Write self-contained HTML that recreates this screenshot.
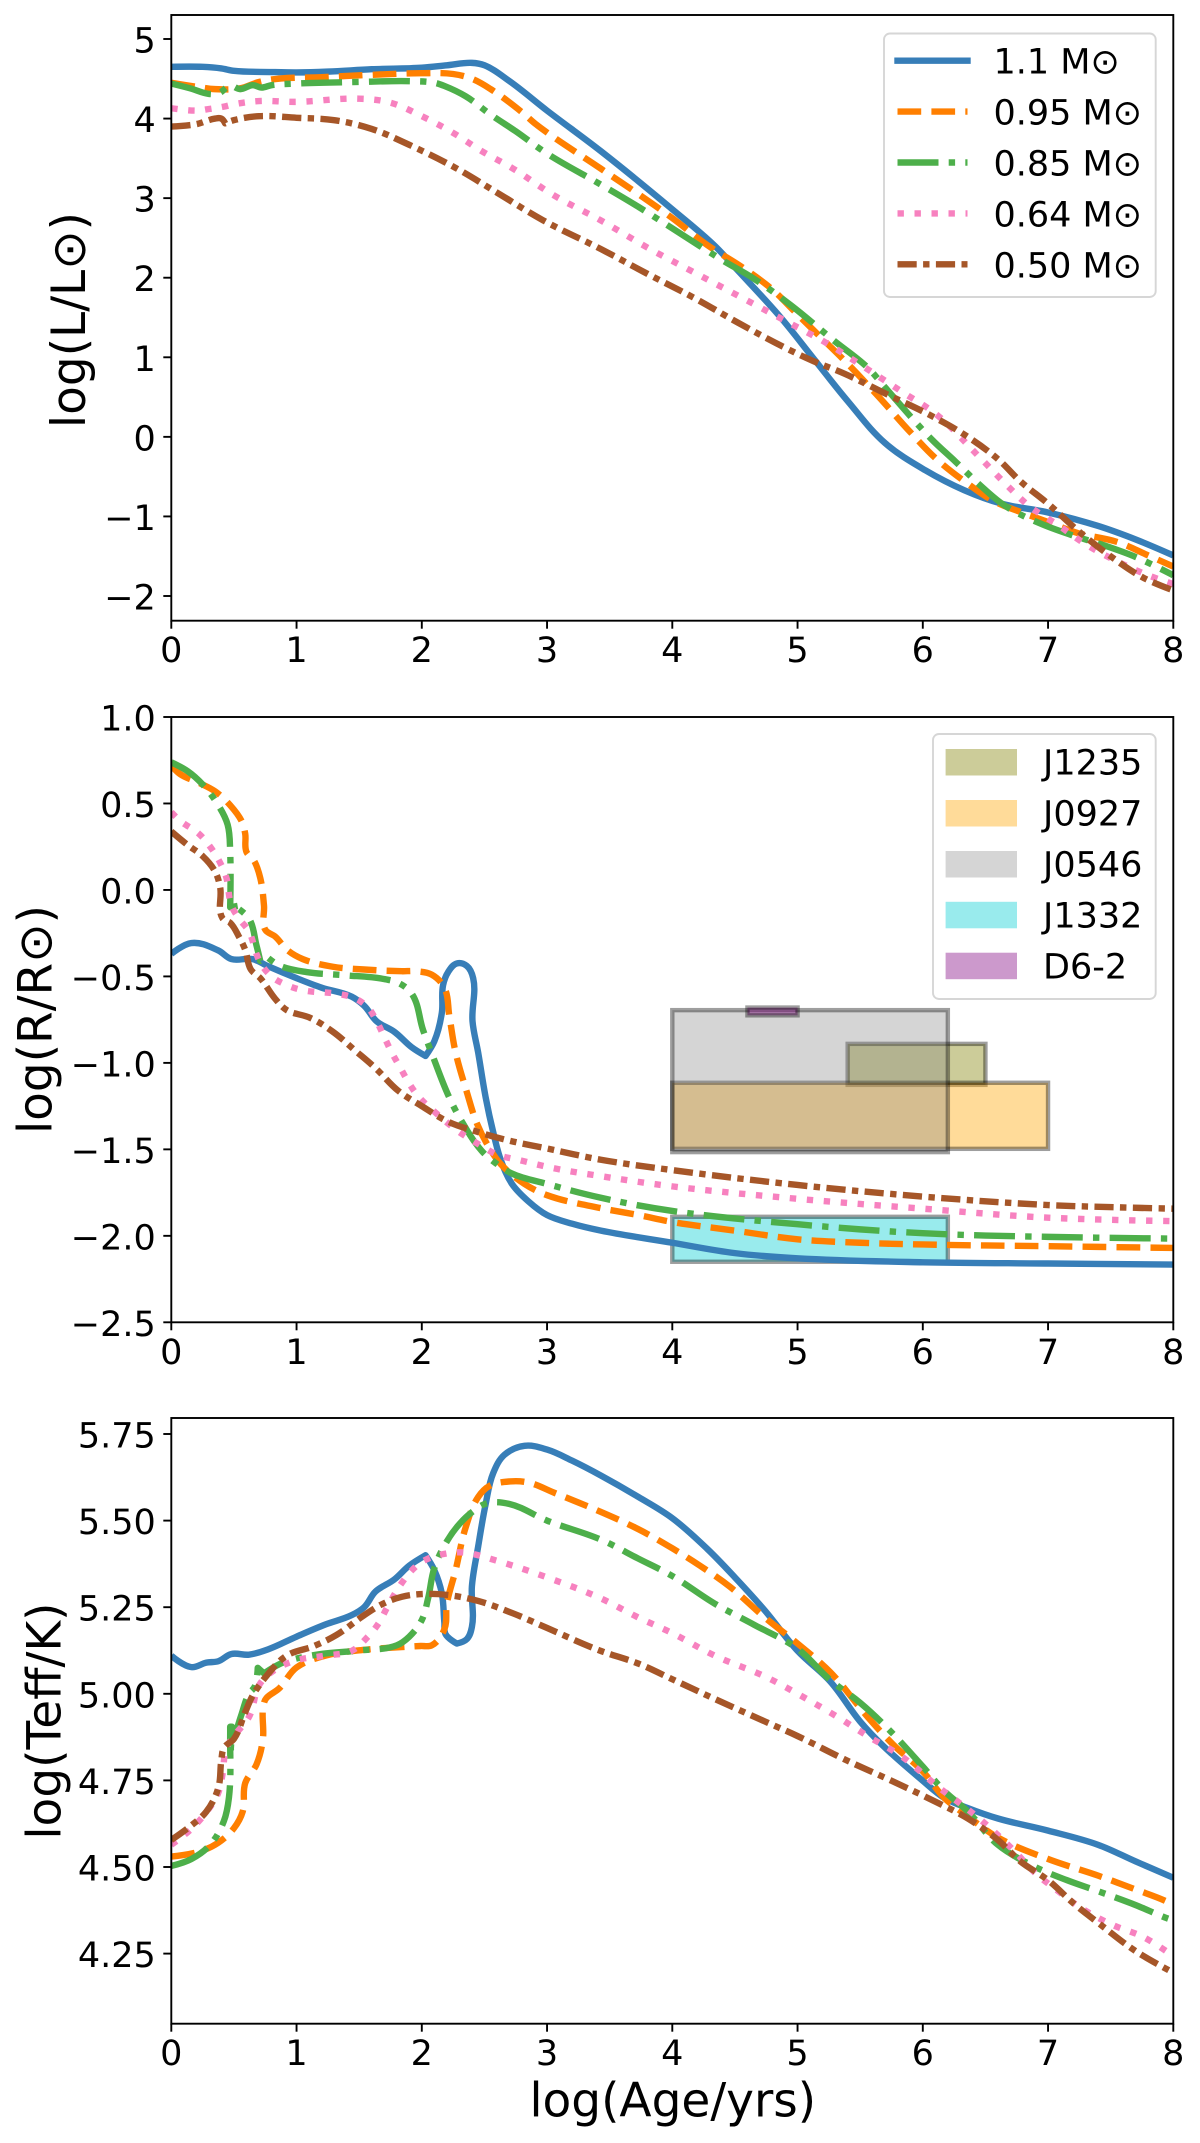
<!DOCTYPE html>
<html lang="en">
<head>
<meta charset="utf-8">
<title>Stellar evolution tracks</title>
<style>
html,body{margin:0;padding:0;background:#fff;}
svg{display:block;}
text{font-family:"DejaVu Sans","Liberation Sans","Noto Sans CJK SC",sans-serif;fill:#000;}
.tick{font-size:35px;}
.axis-title{font-size:47px;}
.leg{font-size:35px;}
</style>
</head>
<body>
<svg xmlns="http://www.w3.org/2000/svg" width="1200" height="2143" viewBox="0 0 1200 2143">
  <defs>
    <clipPath id="clip-1"><rect x="171.3" y="15" width="1002" height="605.7"/></clipPath>
    <clipPath id="clip-2"><rect x="171.3" y="717" width="1002" height="605.3"/></clipPath>
    <clipPath id="clip-3"><rect x="171.3" y="1418" width="1002" height="605.7"/></clipPath>
  </defs>
  <g id="panel-1"></g>
  <g id="panel-2"></g>
  <g id="panel-3"></g>

  <text class="axis-title" transform="translate(85,320) rotate(-90)" text-anchor="middle">log(L/L⊙)</text>
  <text class="axis-title" transform="translate(51.5,1019.5) rotate(-90)" text-anchor="middle">log(R/R⊙)</text>
  <text class="axis-title" transform="translate(60.5,1721) rotate(-90)" text-anchor="middle">log(Teff/K)</text>
  <text class="axis-title" x="672.8" y="2116.5" text-anchor="middle">log(Age/yrs)</text>

  <g>
    <rect x="884" y="33.5" width="271.7" height="263.5" rx="6" fill="#fff" fill-opacity="0.8" stroke="#d6d6d6" stroke-width="1.9"/>
    <g>
      <line x1="897.5" x2="967.5" y1="60.7" y2="60.7" stroke="#377eb8" stroke-width="6.4" stroke-linecap="square"/>
      <text class="leg" x="993.5" y="73.7">1.1 M⊙</text>
    </g>
    <g>
      <line x1="897.5" x2="967.5" y1="111.6" y2="111.6" stroke="#ff7f00" stroke-width="6.4" stroke-dasharray="23.7 10.2"/>
      <text class="leg" x="993.5" y="124.6">0.95 M⊙</text>
    </g>
    <g>
      <line x1="897.5" x2="967.5" y1="162.5" y2="162.5" stroke="#4daf4a" stroke-width="6.4" stroke-dasharray="41 10.2 6.4 10.2"/>
      <text class="leg" x="993.5" y="175.5">0.85 M⊙</text>
    </g>
    <g>
      <line x1="897.5" x2="967.5" y1="213.4" y2="213.4" stroke="#f781bf" stroke-width="6.4" stroke-dasharray="6.4 10.6"/>
      <text class="leg" x="993.5" y="226.4">0.64 M⊙</text>
    </g>
    <g>
      <line x1="897.5" x2="967.5" y1="264.3" y2="264.3" stroke="#a65628" stroke-width="6.4" stroke-dasharray="19.2 6.4 6.4 6.4"/>
      <text class="leg" x="993.5" y="277.3">0.50 M⊙</text>
    </g>
  </g>

  <g>
    <rect x="933" y="734" width="222.7" height="265" rx="6" fill="#fff" fill-opacity="0.8" stroke="#d6d6d6" stroke-width="1.9"/>
    <g>
      <rect x="945.6" y="749" width="71.4" height="26.5" fill="#808000" fill-opacity="0.4"/>
      <text class="leg" x="1043" y="774.7">J1235</text>
    </g>
    <g>
      <rect x="945.6" y="800" width="71.4" height="26.5" fill="#ffa500" fill-opacity="0.4"/>
      <text class="leg" x="1043" y="825.6">J0927</text>
    </g>
    <g>
      <rect x="945.6" y="851" width="71.4" height="26.5" fill="#808080" fill-opacity="0.33"/>
      <text class="leg" x="1043" y="876.5">J0546</text>
    </g>
    <g>
      <rect x="945.6" y="901.8" width="71.4" height="26.5" fill="#00ced1" fill-opacity="0.4"/>
      <text class="leg" x="1043" y="927.4">J1332</text>
    </g>
    <g>
      <rect x="945.6" y="952.7" width="71.4" height="26.5" fill="#800080" fill-opacity="0.4"/>
      <text class="leg" x="1043" y="978.3">D6-2</text>
    </g>
  </g>
</svg>

<script>
// ---------- tick labels ----------
const xTickValues = [0, 1, 2, 3, 4, 5, 6, 7, 8];
const lumTickValues = [5, 4, 3, 2, 1, 0, -1, -2];
const lumTickLabels = ['5', '4', '3', '2', '1', '0', '−1', '−2'];
const radTickValues = [1, 0.5, 0, -0.5, -1, -1.5, -2, -2.5];
const radTickLabels = ['1.0', '0.5', '0.0', '−0.5', '−1.0', '−1.5', '−2.0', '−2.5'];
const teffTickValues = [5.75, 5.5, 5.25, 5, 4.75, 4.5, 4.25];
const teffTickLabels = ['5.75', '5.50', '5.25', '5.00', '4.75', '4.50', '4.25'];

// ---------- observed object boxes (age range, log R range) ----------
const boxNames = ['j1235', 'j0927', 'j0546', 'j1332', 'd6-2'];
const boxAgeMin = [5.4, 4, 4, 4, 4.6];
const boxAgeMax = [6.5, 7, 6.2, 6.2, 5];
const boxRadMin = [-1.127, -1.497, -1.516, -2.15, -0.725];
const boxRadMax = [-0.89, -1.115, -0.695, -1.89, -0.68];

// ---------- log L vs log age ----------
const lumAge110 = [0,0.25,0.4,0.5,0.8,1,1.25,1.6,2,2.2,2.4,2.5,2.7,3,3.43,4,4.34,4.5,4.86,5.13,5.4,5.7,6.02,6.33,6.63,7,7.4,7.7,8];
const lumVal110 = [4.65,4.65,4.63,4.6,4.585,4.58,4.59,4.62,4.64,4.67,4.7,4.67,4.47,4.1,3.59,2.86,2.4,2.13,1.51,0.98,0.45,-0.08,-0.42,-0.67,-0.84,-0.95,-1.12,-1.29,-1.49];
const lumAge095 = [0,0.2,0.35,0.55,0.7,0.85,1.2,1.6,2,2.25,2.4,2.55,2.8,2.91,3.43,3.73,4,4.28,4.56,4.8,4.98,5.16,5.38,5.65,5.9,6.11,6.36,6.57,6.79,7,7.24,7.55,7.8,8];
const lumVal095 = [4.45,4.4,4.37,4.38,4.46,4.5,4.52,4.55,4.57,4.56,4.5,4.37,4.08,3.93,3.37,3.05,2.75,2.41,2.13,1.85,1.57,1.29,0.95,0.5,0.06,-0.28,-0.59,-0.81,-0.95,-1.07,-1.21,-1.32,-1.49,-1.63];
const lumAge085 = [0,0.15,0.3,0.38,0.47,0.55,0.65,0.72,0.8,1,1.5,1.9,2.1,2.18,2.35,2.55,2.75,3,3.43,3.73,4.04,4.4,4.65,4.95,5.29,5.56,5.7,6.07,6.26,6.48,6.66,6.94,7.18,7.46,7.7,8];
const lumVal085 = [4.44,4.38,4.31,4.32,4.41,4.37,4.42,4.39,4.42,4.44,4.46,4.47,4.45,4.41,4.28,4.05,3.84,3.56,3.17,2.89,2.58,2.22,1.99,1.65,1.21,0.87,0.62,-0.03,-0.31,-0.64,-0.87,-1.09,-1.23,-1.37,-1.51,-1.74];
const lumAge064 = [0,0.2,0.3,0.42,0.5,0.7,1,1.5,1.75,2,2.25,2.48,2.73,3.06,3.43,3.8,4.17,4.53,4.9,5.23,5.48,5.84,6.11,6.45,6.66,6.85,7.09,7.3,7.52,7.8,8];
const lumVal064 = [4.13,4.1,4.12,4.15,4.18,4.22,4.21,4.25,4.2,4.03,3.82,3.59,3.37,3.03,2.72,2.38,2.07,1.77,1.46,1.18,0.93,0.56,0.28,-0.25,-0.59,-0.87,-1.12,-1.35,-1.54,-1.74,-1.85];
const lumAge050 = [0,0.2,0.35,0.4,0.43,0.5,0.7,1,1.3,1.6,1.9,2.27,2.6,2.97,3.43,3.8,4.17,4.53,4.9,5.13,5.38,5.72,6.05,6.33,6.6,6.78,7,7.24,7.49,7.76,8];
const lumVal050 = [3.9,3.93,4,4,3.94,3.98,4.03,4.01,3.98,3.87,3.67,3.38,3.07,2.72,2.36,2.05,1.75,1.43,1.12,0.95,0.79,0.53,0.28,0.03,-0.28,-0.56,-0.84,-1.18,-1.49,-1.77,-1.93];

// ---------- log R vs log age ----------
const radAge110 = [0,0.16,0.375,0.48,0.65,0.77,1,1.2,1.44,1.54,1.64,1.78,1.92,2.03,2.1,2.16,2.17,2.21,2.28,2.36,2.41,2.405,2.45,2.51,2.57,2.63,2.72,2.85,3,3.2,3.43,4,4.5,5,6,7,8];
const radVal110 = [-0.37,-0.307,-0.35,-0.4,-0.4,-0.44,-0.51,-0.565,-0.617,-0.67,-0.76,-0.82,-0.91,-0.96,-0.875,-0.71,-0.55,-0.475,-0.425,-0.44,-0.51,-0.76,-0.94,-1.2,-1.4,-1.56,-1.7,-1.8,-1.88,-1.93,-1.97,-2.04,-2.1,-2.13,-2.153,-2.16,-2.166];
const radAge095 = [0,0.07,0.22,0.35,0.47,0.56,0.59,0.6,0.66,0.71,0.74,0.75,0.83,0.93,1.05,1.29,1.54,1.84,1.96,2.08,2.18,2.22,2.27,2.36,2.44,2.53,2.63,2.82,3,3.43,3.73,4,4.5,5,5.5,6,7,8];
const radVal095 = [0.72,0.67,0.62,0.57,0.49,0.4,0.325,0.22,0.17,0.07,-0.09,-0.23,-0.27,-0.35,-0.4,-0.444,-0.46,-0.47,-0.47,-0.49,-0.565,-0.73,-0.94,-1.17,-1.35,-1.48,-1.585,-1.7,-1.765,-1.84,-1.88,-1.92,-1.97,-2.02,-2.04,-2.05,-2.06,-2.07];
const radAge085 = [0,0.13,0.25,0.375,0.45,0.47,0.47,0.55,0.52,0.62,0.68,0.71,0.76,0.86,1.08,1.38,1.69,1.82,1.92,2.01,2.09,2.21,2.31,2.48,2.6,2.72,3,3.43,4,5,6,7,8];
const radVal085 = [0.738,0.687,0.61,0.49,0.377,0.22,-0.1,-0.09,-0.1,-0.165,-0.32,-0.41,-0.385,-0.436,-0.475,-0.493,-0.514,-0.54,-0.6,-0.81,-0.965,-1.185,-1.327,-1.51,-1.585,-1.64,-1.7,-1.78,-1.856,-1.933,-1.985,-2.006,-2.016];
const radAge064 = [0,0.07,0.22,0.31,0.39,0.44,0.48,0.54,0.62,0.68,0.71,0.8,0.92,1.05,1.32,1.46,1.57,1.64,1.7,1.76,1.83,1.9,1.98,2.09,2.28,2.42,2.51,2.6,2.79,3.06,3.43,4,5,6,7,8];
const radVal064 = [0.45,0.4,0.325,0.25,0.157,0.07,-0.09,-0.165,-0.24,-0.37,-0.42,-0.5,-0.55,-0.58,-0.6,-0.625,-0.68,-0.76,-0.85,-0.94,-1.03,-1.12,-1.2,-1.275,-1.39,-1.456,-1.495,-1.53,-1.564,-1.61,-1.655,-1.714,-1.786,-1.843,-1.895,-1.915];
const radAge050 = [0,0.13,0.25,0.35,0.39,0.41,0.47,0.54,0.59,0.635,0.71,0.83,0.92,1.11,1.29,1.47,1.63,1.81,2,2.21,2.45,2.7,3,3.43,4,5,6,7,7.55,8];
const radVal050 = [0.338,0.26,0.196,0.106,0.015,-0.165,-0.19,-0.27,-0.346,-0.46,-0.51,-0.63,-0.694,-0.74,-0.82,-0.93,-1.03,-1.16,-1.25,-1.34,-1.4,-1.45,-1.495,-1.56,-1.62,-1.706,-1.773,-1.822,-1.835,-1.843];

// ---------- log Teff vs log age ----------
const teffAge110 = [0,0.16,0.28,0.375,0.48,0.62,0.77,1,1.23,1.44,1.54,1.63,1.78,1.9,2.03,2.1,2.16,2.18,2.19,2.28,2.36,2.4,2.4,2.45,2.51,2.57,2.66,2.82,3,3.2,3.43,3.73,4,4.28,4.5,4.74,5,5.26,5.5,5.68,6,6.17,6.36,6.6,7,7.4,7.7,8];
const teffVal110 = [5.11,5.077,5.09,5.094,5.115,5.113,5.128,5.165,5.2,5.227,5.25,5.295,5.33,5.37,5.4,5.357,5.29,5.206,5.172,5.145,5.158,5.193,5.31,5.425,5.548,5.637,5.69,5.716,5.705,5.673,5.63,5.568,5.507,5.418,5.336,5.24,5.124,5.036,4.92,4.851,4.749,4.7,4.67,4.64,4.605,4.564,4.516,4.469];
const teffAge095 = [0,0.22,0.375,0.5,0.57,0.59,0.68,0.73,0.74,0.76,0.86,1,1.23,1.54,1.84,1.99,2.08,2.18,2.2,2.27,2.35,2.45,2.54,2.7,2.85,3.06,3.43,3.73,4,4.22,4.46,4.74,5,5.26,5.56,5.77,6,6.17,6.36,6.6,7,7.4,7.7,7.95,8];
const teffVal095 = [4.53,4.544,4.57,4.612,4.66,4.742,4.796,4.865,4.974,4.988,5.015,5.076,5.11,5.127,5.135,5.138,5.14,5.186,5.26,5.357,5.48,5.568,5.6,5.613,5.61,5.58,5.525,5.475,5.42,5.37,5.309,5.22,5.145,5.063,4.933,4.851,4.776,4.7,4.646,4.585,4.523,4.475,4.435,4.4,4.39];
const teffAge085 = [0,0.16,0.31,0.42,0.46,0.47,0.47,0.485,0.475,0.56,0.62,0.665,0.69,0.74,0.86,0.95,1.2,1.5,1.8,1.9,2,2.05,2.1,2.2,2.3,2.41,2.52,2.7,3,3.43,3.73,4,4.34,4.65,5,5.26,5.5,5.72,6,6.17,6.36,6.6,6.88,7.15,7.4,7.7,7.95,8];
const teffVal085 = [4.503,4.523,4.564,4.633,4.7,4.88,4.905,4.905,4.84,4.94,5,5.02,5.075,5.059,5.085,5.097,5.115,5.125,5.14,5.165,5.213,5.275,5.363,5.44,5.49,5.527,5.55,5.548,5.5,5.445,5.39,5.34,5.26,5.2,5.13,5.04,4.974,4.9,4.79,4.72,4.66,4.564,4.503,4.462,4.43,4.39,4.352,4.346];
const teffAge064 = [0,0.16,0.31,0.375,0.41,0.44,0.5,0.62,0.71,0.83,1,1.23,1.44,1.57,1.66,1.72,1.84,1.96,2.05,2.18,2.33,2.6,3,3.42,3.73,4,4.34,4.74,5,5.32,5.56,5.84,6.11,6.45,6.72,6.9,7.09,7.27,7.52,7.76,8];
const teffVal064 = [4.564,4.61,4.673,4.714,4.77,4.844,4.878,4.933,5.03,5.07,5.097,5.11,5.124,5.165,5.206,5.247,5.32,5.37,5.39,5.404,5.408,5.384,5.336,5.277,5.22,5.175,5.11,5.05,5,4.933,4.878,4.817,4.735,4.64,4.55,4.482,4.428,4.38,4.332,4.298,4.243];
const teffAge050 = [0,0.16,0.28,0.375,0.4,0.42,0.5,0.59,0.65,0.77,0.92,1.14,1.32,1.54,1.69,1.84,2,2.21,2.45,2.73,3,3.42,3.73,4,4.34,4.74,5,5.38,5.75,6.11,6.36,6.6,6.78,7,7.21,7.4,7.7,8];
const teffVal050 = [4.578,4.62,4.66,4.728,4.81,4.844,4.87,4.947,4.995,5.056,5.11,5.138,5.17,5.227,5.26,5.28,5.288,5.285,5.268,5.232,5.19,5.125,5.087,5.042,4.985,4.92,4.878,4.81,4.749,4.687,4.64,4.578,4.516,4.462,4.393,4.339,4.257,4.195];

// ---------- series lists ----------
const massNames = ['1-1', '0-95', '0-85', '0-64', '0-50'];
const lumAges = [lumAge110, lumAge095, lumAge085, lumAge064, lumAge050];
const lumVals = [lumVal110, lumVal095, lumVal085, lumVal064, lumVal050];
const radAges = [radAge110, radAge095, radAge085, radAge064, radAge050];
const radVals = [radVal110, radVal095, radVal085, radVal064, radVal050];
const teffAges = [teffAge110, teffAge095, teffAge085, teffAge064, teffAge050];
const teffVals = [teffVal110, teffVal095, teffVal085, teffVal064, teffVal050];

// ---------- drawing ----------
const SVG_NS = 'http://www.w3.org/2000/svg';
const seriesColors = ['#377eb8', '#ff7f00', '#4daf4a', '#f781bf', '#a65628'];
const seriesDashes = ['none', '23.7 10.2', '41 10.2 6.4 10.2', '6.4 10.6', '19.2 6.4 6.4 6.4'];
const boxFills = ['rgba(128,128,0,0.4)', 'rgba(255,165,0,0.4)', 'rgba(128,128,128,0.33)', 'rgba(0,206,209,0.4)', 'rgba(128,0,128,0.4)'];
const LEFT = 171.3, RIGHT = 1173.3;

function xScale(v) { return LEFT + (v / 8) * (RIGHT - LEFT); }
function linearScale(d0, d1, p0, p1) { return function (v) { return p0 + (v - d0) / (d1 - d0) * (p1 - p0); }; }
function make(tag) { return document.createElementNS(SVG_NS, tag); }

// Smooth path through the points; sharp turns stay as corners.
function smoothPath(pts) {
  const tangents = pts.map(function (p, i) {
    if (i === 0 || i === pts.length - 1) { return [0, 0]; }
    const a = pts[i - 1], b = pts[i + 1];
    const ux = p[0] - a[0], uy = p[1] - a[1], vx = b[0] - p[0], vy = b[1] - p[1];
    const lu = Math.hypot(ux, uy) || 1, lv = Math.hypot(vx, vy) || 1;
    if ((ux * vx + uy * vy) / (lu * lv) < 0.5) { return [0, 0]; }
    const tx = ux / lu + vx / lv, ty = uy / lu + vy / lv;
    const lt = Math.hypot(tx, ty) || 1;
    return [tx / lt, ty / lt];
  });
  let d = 'M' + pts[0][0].toFixed(2) + ' ' + pts[0][1].toFixed(2);
  for (let i = 1; i < pts.length; i++) {
    const a = pts[i - 1], b = pts[i];
    const h = Math.hypot(b[0] - a[0], b[1] - a[1]) * 0.35;
    d += 'C' + (a[0] + tangents[i - 1][0] * h).toFixed(2) + ' ' + (a[1] + tangents[i - 1][1] * h).toFixed(2) +
         ' ' + (b[0] - tangents[i][0] * h).toFixed(2) + ' ' + (b[1] - tangents[i][1] * h).toFixed(2) +
         ' ' + b[0].toFixed(2) + ' ' + b[1].toFixed(2);
  }
  return d;
}

function drawAxes(group, prefix, top, bottom, yScale, yTicks, yLabels) {
  xTickValues.forEach(function (v) {
    const t = make('line');
    
    
    t.setAttribute('x1', xScale(v)); t.setAttribute('x2', xScale(v));
    t.setAttribute('y1', bottom); t.setAttribute('y2', bottom + 8);
    t.setAttribute('stroke', '#000'); t.setAttribute('stroke-width', '1.9');
    group.appendChild(t);
    const l = make('text');
    
    
    l.setAttribute('class', 'tick');
    l.setAttribute('x', xScale(v)); l.setAttribute('y', bottom + 41.5);
    l.setAttribute('text-anchor', 'middle');
    l.textContent = String(v);
    group.appendChild(l);
  });
  yTicks.forEach(function (v, i) {
    const t = make('line');
    
    
    t.setAttribute('x1', LEFT - 8); t.setAttribute('x2', LEFT);
    t.setAttribute('y1', yScale(v)); t.setAttribute('y2', yScale(v));
    t.setAttribute('stroke', '#000'); t.setAttribute('stroke-width', '1.9');
    group.appendChild(t);
    const l = make('text');
    
    
    l.setAttribute('class', 'tick');
    l.setAttribute('x', 155.8); l.setAttribute('y', yScale(v) + 13.5);
    l.setAttribute('text-anchor', 'end');
    l.textContent = yLabels[i];
    group.appendChild(l);
  });
  const frame = make('rect');
  
  
  frame.setAttribute('x', LEFT); frame.setAttribute('y', top);
  frame.setAttribute('width', RIGHT - LEFT); frame.setAttribute('height', bottom - top);
  frame.setAttribute('fill', 'none'); frame.setAttribute('stroke', '#000'); frame.setAttribute('stroke-width', '1.9');
  group.appendChild(frame);
}

function drawSeries(group, prefix, clipId, yScale, ages, vals) {
  const holder = make('g');
  holder.setAttribute('clip-path', 'url(#' + clipId + ')');
  
  
  ages.forEach(function (xs, i) {
    const ys = vals[i];
    const pts = xs.map(function (x, k) { return [xScale(x), yScale(ys[k])]; });
    const p = make('path');
    
    
    p.setAttribute('d', smoothPath(pts));
    p.setAttribute('fill', 'none');
    p.setAttribute('stroke', seriesColors[i]);
    p.setAttribute('stroke-width', '6.4');
    p.setAttribute('stroke-linejoin', 'round');
    if (seriesDashes[i] !== 'none') { p.setAttribute('stroke-dasharray', seriesDashes[i]); }
    holder.appendChild(p);
  });
  group.appendChild(holder);
}

function drawBoxes(group, yScale) {
  boxNames.forEach(function (name, i) {
    const r = make('rect');
    
    
    r.setAttribute('x', xScale(boxAgeMin[i]));
    r.setAttribute('y', yScale(boxRadMax[i]));
    r.setAttribute('width', xScale(boxAgeMax[i]) - xScale(boxAgeMin[i]));
    r.setAttribute('height', yScale(boxRadMin[i]) - yScale(boxRadMax[i]));
    r.setAttribute('fill', boxFills[i]);
    r.setAttribute('stroke', 'rgba(0,0,0,0.38)');
    r.setAttribute('stroke-width', '4.4');
    group.appendChild(r);
  });
}

const yLum = linearScale(5, -2, 39, 596);
const yRad = linearScale(1, -2.5, 717, 1322.3);
const yTeff = linearScale(5.75, 4.25, 1434, 1953.6);

const g1 = document.getElementById('panel-1');
drawSeries(g1, 'luminosity', 'clip-1', yLum, lumAges, lumVals);
drawAxes(g1, 'luminosity', 15, 620.7, yLum, lumTickValues, lumTickLabels);

const g2 = document.getElementById('panel-2');
drawBoxes(g2, yRad);
drawSeries(g2, 'radius', 'clip-2', yRad, radAges, radVals);
drawAxes(g2, 'radius', 717, 1322.3, yRad, radTickValues, radTickLabels);

const g3 = document.getElementById('panel-3');
drawSeries(g3, 'temperature', 'clip-3', yTeff, teffAges, teffVals);
drawAxes(g3, 'temperature', 1418, 2023.7, yTeff, teffTickValues, teffTickLabels);
</script>
</body>
</html>
